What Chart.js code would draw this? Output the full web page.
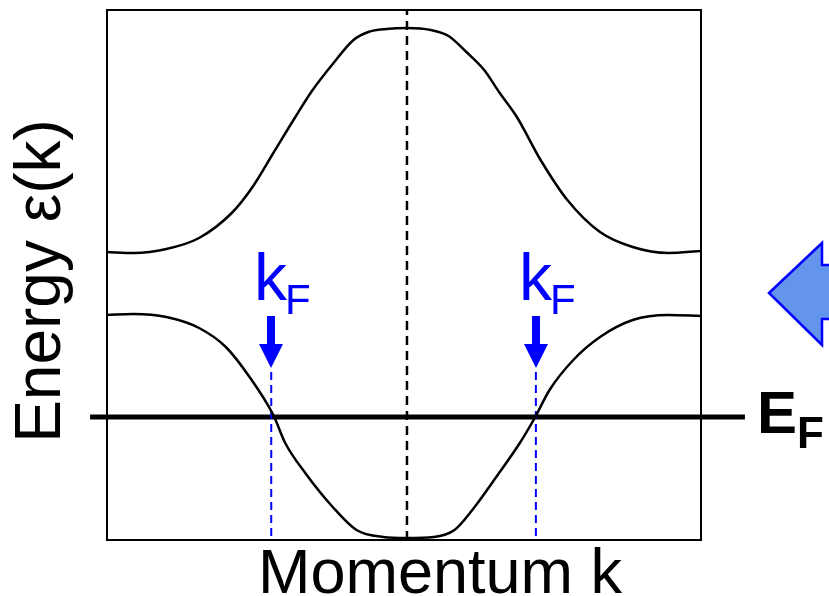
<!DOCTYPE html>
<html>
<head>
<meta charset="utf-8">
<script src="https://cdn.jsdelivr.net/npm/chart.js@4"></script>
<style>
  html, body { margin: 0; padding: 0; background: #fff; }
  canvas { display: block; }
</style>
</head>
<body>
<canvas id="bandChart" width="829" height="596"></canvas>
<script>
// momentum k (in units of pi/a) and energy (relative to E_F)
const kUpper = [-1.00, -0.91, -0.80, -0.69, -0.58, -0.51, -0.44, -0.37, -0.31, -0.24, -0.17, -0.12, -0.06, 0.01,
  0.09, 0.15, 0.21, 0.27, 0.32, 0.38, 0.46, 0.55, 0.66, 0.77, 0.89, 1.00];
const eUpper = [1.65, 1.64, 1.68, 1.79, 2.04, 2.30, 2.64, 2.98, 3.26, 3.53, 3.77, 3.85, 3.88, 3.89,
  3.87, 3.81, 3.65, 3.47, 3.25, 3.00, 2.57, 2.17, 1.85, 1.70, 1.64, 1.66];

const kLower = [-1.00, -0.91, -0.80, -0.69, -0.60, -0.52, -0.44, -0.40, -0.33, -0.24, -0.16, -0.07, 0.01,
  0.10, 0.17, 0.23, 0.32, 0.39, 0.44, 0.49, 0.57, 0.66, 0.77, 0.89, 1.00];
const eLower = [1.02, 1.03, 1.00, 0.89, 0.70, 0.40, 0.02, -0.26, -0.57, -0.90, -1.13, -1.20, -1.21,
  -1.20, -1.13, -0.93, -0.56, -0.26, -0.01, 0.27, 0.57, 0.80, 0.97, 1.02, 1.01];

const kFermi = [-0.447, 0.444];
const eFermi = 0;
const kCenter = 0.01;
const kRange = [-1, 1];
const eRange = [-1.23, 4.07];

const FONT = '"Liberation Sans", Arial, sans-serif';
const BLUE = '#0000ff';

function toPoints(xs, ys) {
  return xs.map(function (x, i) { return { x: x, y: ys[i] }; });
}

// frame, arrows and labels
const decorations = {
  id: 'decorations',
  beforeDatasetsDraw(chart) {
    const a = chart.chartArea;
    const ctx = chart.ctx;
    ctx.save();
    ctx.strokeStyle = '#000';
    ctx.lineWidth = 2;
    ctx.strokeRect(a.left, a.top, a.right - a.left, a.bottom - a.top);
    ctx.restore();
  },
  afterDatasetsDraw(chart) {
    const ctx = chart.ctx;
    const x = chart.scales.x;
    const y = chart.scales.y;
    ctx.save();

    // k_F arrows and labels
    kFermi.forEach(function (k) {
      const px = Math.round(x.getPixelForValue(k));
      ctx.fillStyle = BLUE;
      ctx.fillRect(px - 4, 316, 8, 29);
      ctx.beginPath();
      ctx.moveTo(px - 12, 344);
      ctx.lineTo(px + 12, 344);
      ctx.lineTo(px, 368);
      ctx.closePath();
      ctx.fill();

      ctx.textBaseline = 'alphabetic';
      ctx.textAlign = 'left';
      ctx.font = '66px ' + FONT;
      ctx.fillText('k', px - 17, 300);
      ctx.font = '42px ' + FONT;
      ctx.fillText('F', px + 14, 314);
    });

    // E_F label
    const ef = y.getPixelForValue(eFermi);
    ctx.fillStyle = '#000';
    ctx.textAlign = 'left';
    ctx.font = 'bold 60px ' + FONT;
    ctx.fillText('E', 757, ef + 16);
    ctx.font = 'bold 44px ' + FONT;
    ctx.fillText('F', 797, ef + 31);

    // axis titles
    ctx.font = '63px ' + FONT;
    ctx.textAlign = 'center';
    ctx.fillText('Momentum k', 440, 593);
    ctx.save();
    ctx.font = '64px ' + FONT;
    ctx.translate(60, 281);
    ctx.rotate(-Math.PI / 2);
    ctx.fillText('Energy \u03b5(k)', 0, 0);
    ctx.restore();

    // big arrow at the right edge
    ctx.beginPath();
    ctx.moveTo(769, 293);
    ctx.lineTo(822, 243);
    ctx.lineTo(822, 265);
    ctx.lineTo(845, 265);
    ctx.lineTo(845, 319);
    ctx.lineTo(822, 319);
    ctx.lineTo(822, 345);
    ctx.closePath();
    ctx.fillStyle = '#6495ed';
    ctx.fill();
    ctx.strokeStyle = BLUE;
    ctx.lineWidth = 2.5;
    ctx.stroke();

    ctx.restore();
  }
};

const ctx = document.getElementById('bandChart').getContext('2d');

// eslint-disable-next-line
const chart = new Chart(ctx, {
  type: 'line',
  data: {
    datasets: [
      {
        label: 'upper band',
        data: toPoints(kUpper, eUpper),
        borderColor: '#000',
        borderWidth: 2.5,
        cubicInterpolationMode: 'monotone',
      },
      {
        label: 'lower band',
        data: toPoints(kLower, eLower),
        borderColor: '#000',
        borderWidth: 2.5,
        cubicInterpolationMode: 'monotone',
      },
      {
        label: 'k = 0',
        data: [{ x: kCenter, y: eRange[0] }, { x: kCenter, y: eRange[1] }],
        borderColor: '#000',
        borderWidth: 2.5,
        borderDash: [9, 6],
      },
      {
        label: 'left kF',
        data: [{ x: kFermi[0], y: 0.45 }, { x: kFermi[0], y: eRange[0] }],
        borderColor: BLUE,
        borderWidth: 2,
        borderDash: [8, 5],
      },
      {
        label: 'right kF',
        data: [{ x: kFermi[1], y: 0.45 }, { x: kFermi[1], y: eRange[0] }],
        borderColor: BLUE,
        borderWidth: 2,
        borderDash: [8, 5],
      },
      {
        label: 'Fermi level',
        data: [{ x: -1.057, y: eFermi }, { x: 1.148, y: eFermi }],
        borderColor: '#000',
        borderWidth: 5,
        clip: false,
      },
    ],
  },
  options: {
    responsive: false,
    animation: false,
    layout: { padding: { left: 107, right: 128, top: 10, bottom: 56 } },
    elements: { point: { radius: 0 } },
    plugins: { legend: { display: false }, tooltip: { enabled: false } },
    scales: {
      x: { type: 'linear', min: kRange[0], max: kRange[1], display: false },
      y: { min: eRange[0], max: eRange[1], display: false },
    },
  },
  plugins: [decorations],
});
</script>
</body>
</html>
